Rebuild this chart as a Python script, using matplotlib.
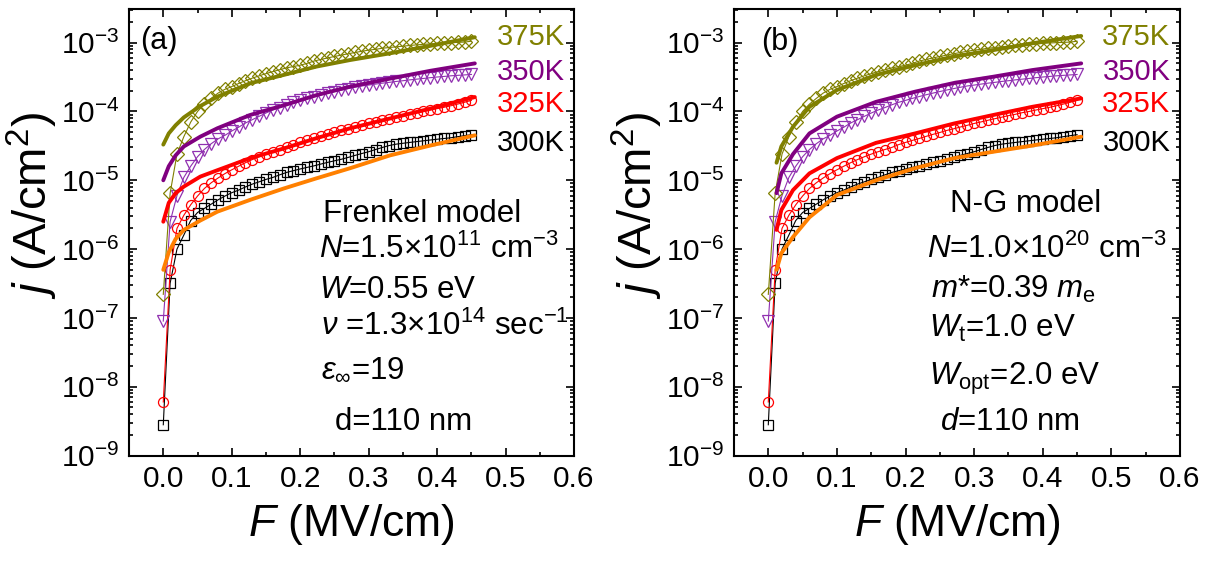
import matplotlib
matplotlib.use("Agg")
import matplotlib.pyplot as plt
from matplotlib.ticker import MultipleLocator, LogLocator, NullFormatter

plt.rcParams['font.family'] = ['Liberation Sans', 'DejaVu Sans']
plt.rcParams['mathtext.fontset'] = 'custom'
plt.rcParams['mathtext.rm'] = 'Liberation Sans'
plt.rcParams['mathtext.it'] = 'Liberation Sans:italic'
plt.rcParams['mathtext.bf'] = 'Liberation Sans:bold'

# ---------------- measured data (same in both panels) ----------------
field = [0.00, 0.01, 0.02, 0.03, 0.04, 0.05, 0.06, 0.07, 0.08, 0.09,
         0.10, 0.11, 0.12, 0.13, 0.14, 0.15, 0.16, 0.17, 0.18, 0.19,
         0.20, 0.21, 0.22, 0.23, 0.24, 0.25, 0.26, 0.27, 0.28, 0.29,
         0.30, 0.31, 0.32, 0.33, 0.34, 0.35, 0.36, 0.37, 0.38, 0.39,
         0.40, 0.41, 0.42, 0.43, 0.44, 0.45]

j_300 = [2.8e-9, 3.2e-7, 1.0e-6, 1.6e-6, 2.6e-6, 3.4e-6, 3.9e-6, 4.5e-6, 5.2e-6, 5.9e-6,
         6.6e-6, 7.2e-6, 8.0e-6, 8.8e-6, 9.5e-6, 1.03e-5, 1.1e-5, 1.2e-5, 1.3e-5, 1.38e-5,
         1.46e-5, 1.54e-5, 1.62e-5, 1.72e-5, 1.82e-5, 1.92e-5, 2.02e-5, 2.15e-5, 2.3e-5, 2.45e-5,
         2.6e-5, 2.8e-5, 3.0e-5, 3.2e-5, 3.35e-5, 3.45e-5, 3.55e-5, 3.65e-5, 3.75e-5, 3.85e-5,
         3.95e-5, 4.05e-5, 4.15e-5, 4.3e-5, 4.45e-5, 4.6e-5]

j_325 = [6.0e-9, 5.0e-7, 2.0e-6, 3.1e-6, 4.4e-6, 5.9e-6, 7.6e-6, 9.2e-6, 1.08e-5, 1.25e-5,
         1.42e-5, 1.6e-5, 1.8e-5, 2.0e-5, 2.2e-5, 2.4e-5, 2.6e-5, 2.8e-5, 3.0e-5, 3.3e-5,
         3.55e-5, 3.8e-5, 4.05e-5, 4.35e-5, 4.65e-5, 4.95e-5, 5.3e-5, 5.6e-5, 5.95e-5, 6.3e-5,
         6.7e-5, 7.05e-5, 7.45e-5, 7.85e-5, 8.25e-5, 8.7e-5, 9.1e-5, 9.6e-5, 1.0e-4, 1.05e-4,
         1.1e-4, 1.15e-4, 1.21e-4, 1.28e-4, 1.36e-4, 1.45e-4]

j_350 = [9.0e-8, 2.5e-6, 6.0e-6, 1.1e-5, 1.6e-5, 2.2e-5, 2.8e-5, 3.4e-5, 4.0e-5, 4.5e-5,
         5.2e-5, 5.9e-5, 6.8e-5, 7.6e-5, 8.5e-5, 9.5e-5, 1.05e-4, 1.14e-4, 1.25e-4, 1.36e-4,
         1.45e-4, 1.55e-4, 1.65e-4, 1.75e-4, 1.85e-4, 1.95e-4, 2.05e-4, 2.15e-4, 2.25e-4, 2.35e-4,
         2.42e-4, 2.5e-4, 2.58e-4, 2.65e-4, 2.73e-4, 2.8e-4, 2.88e-4, 2.95e-4, 3.02e-4, 3.1e-4,
         3.17e-4, 3.23e-4, 3.3e-4, 3.35e-4, 3.4e-4, 3.45e-4]

j_375 = [2.2e-7, 6.5e-6, 2.4e-5, 4.3e-5, 7.0e-5, 1.0e-4, 1.28e-4, 1.55e-4, 1.85e-4, 2.1e-4,
         2.3e-4, 2.55e-4, 2.8e-4, 3.05e-4, 3.3e-4, 3.55e-4, 3.8e-4, 4.05e-4, 4.3e-4, 4.5e-4,
         4.7e-4, 5.0e-4, 5.4e-4, 5.7e-4, 6.0e-4, 6.3e-4, 6.6e-4, 6.9e-4, 7.2e-4, 7.5e-4,
         7.8e-4, 8.0e-4, 8.3e-4, 8.5e-4, 8.7e-4, 8.9e-4, 9.1e-4, 9.3e-4, 9.45e-4, 9.6e-4,
         9.75e-4, 9.9e-4, 1.0e-3, 1.01e-3, 1.02e-3, 1.05e-3]

# ---------------- model fits, panel (a): Frenkel ----------------
fit_a_F = [0.0, 0.008, 0.018, 0.03, 0.054, 0.079, 0.127, 0.176, 0.224, 0.273, 0.331, 0.39, 0.455]
fit_a_300 = [5e-7, 9e-7, 1.4e-6, 1.9e-6, 2.6e-6, 3.5e-6, 5.2e-6, 7.6e-6, 1.07e-5, 1.5e-5, 2.3e-5, 3.2e-5, 4.5e-5]
fit_a_325 = [2.5e-6, 4.7e-6, 6.5e-6, 8.1e-6, 1.13e-5, 1.4e-5, 2.1e-5, 2.9e-5, 4.1e-5, 5.7e-5, 7.9e-5, 1.1e-4, 1.62e-4]
fit_a_350 = [1e-5, 1.6e-5, 2.3e-5, 3.1e-5, 4.3e-5, 5.7e-5, 8.9e-5, 1.23e-4, 1.73e-4, 2.3e-4, 3.0e-4, 3.9e-4, 5.0e-4]
fit_a_375 = [3.3e-5, 4.8e-5, 6.3e-5, 8.2e-5, 1.2e-4, 1.64e-4, 2.57e-4, 3.4e-4, 4.5e-4, 5.6e-4, 7.0e-4, 9.0e-4, 1.2e-3]

# ---------------- model fits, panel (b): N-G ----------------
fit_b_F = [0.012, 0.019, 0.036, 0.06, 0.1, 0.157, 0.214, 0.271, 0.328, 0.385, 0.456]
fit_b_300 = [5e-7, 8.7e-7, 1.5e-6, 2.9e-6, 6.1e-6, 1.0e-5, 1.5e-5, 2.1e-5, 2.6e-5, 3.2e-5, 4.3e-5]
fit_b_325 = [1.9e-6, 3.7e-6, 7.2e-6, 1.26e-5, 2.1e-5, 3.5e-5, 4.8e-5, 6.7e-5, 8.9e-5, 1.17e-4, 1.55e-4]
fit_b_350 = [6.5e-6, 1.26e-5, 2.4e-5, 4.8e-5, 8.4e-5, 1.38e-4, 1.94e-4, 2.6e-4, 3.2e-4, 4.0e-4, 5.0e-4]
fit_b_375 = [1.8e-5, 3.1e-5, 6.0e-5, 1.17e-4, 2.05e-4, 3.4e-4, 4.7e-4, 6.3e-4, 7.8e-4, 9.8e-4, 1.25e-3]

temps = ['300K', '325K', '350K', '375K']
temp_label_y = [3.5e-5, 1.3e-4, 3.7e-4, 1.2e-3]

text_a = ["Frenkel model",
          r"$N$=1.5$\times$10$^{11}$ cm$^{-3}$",
          r"$W$=0.55 eV",
          r"$\nu$ =1.3$\times$10$^{14}$ sec$^{-1}$",
          r"$\varepsilon_{\infty}$=19",
          "d=110 nm"]
text_b = ["N-G model",
          r"$N$=1.0$\times$10$^{20}$ cm$^{-3}$",
          r"$m$*=0.39 $m_{\mathrm{e}}$",
          r"$W_{\mathrm{t}}$=1.0 eV",
          r"$W_{\mathrm{opt}}$=2.0 eV",
          r"$d$=110 nm"]

# ---------------- styling ----------------
marker_colors = ['black', '#FF0000', '#9030B0', '#808000']
fit_colors = ['#FF8000', '#FF0000', '#800080', '#808000']
label_colors = ['black', '#FF0000', '#800080', '#808000']
markers = ['s', 'o', 'v', 'D']
msizes = [6.6, 7.2, 8.0, 6.8]

fig = plt.figure(figsize=(12.14, 5.63), dpi=100)
ax_a = fig.add_axes([0.1063, 0.1909, 0.3666, 0.7925])
ax_b = fig.add_axes([0.6046, 0.1909, 0.3674, 0.7925])

data = [j_300, j_325, j_350, j_375]
fits = {
    'a': (fit_a_F, [fit_a_300, fit_a_325, fit_a_350, fit_a_375]),
    'b': (fit_b_F, [fit_b_300, fit_b_325, fit_b_350, fit_b_375]),
}

text_x_a = [0.436, 0.427, 0.427, 0.432, 0.432, 0.463]
text_y_a = [0.524, 0.443, 0.353, 0.270, 0.174, 0.057]
text_x_b = [0.485, 0.433, 0.442, 0.437, 0.437, 0.462]
text_y_b = [0.546, 0.442, 0.353, 0.266, 0.158, 0.057]

for key, ax in (('a', ax_a), ('b', ax_b)):
    fF, fvals = fits[key]
    for i in range(4):
        ax.plot(field, data[i], marker=markers[i], ms=msizes[i], mfc='none',
                mec=marker_colors[i], mew=0.9, color=marker_colors[i], lw=0.8, zorder=2)
    for i in range(4):
        ax.plot(fF, fvals[i], color=fit_colors[i], lw=2.8, zorder=3,
                solid_capstyle='round')
    for i in range(4):
        ax.text(0.586, temp_label_y[i], temps[i], color=label_colors[i],
                fontsize=21, ha='right', va='center')

    ax.set_yscale('log')
    ax.set_xlim(-0.05, 0.6)
    ax.set_ylim(1e-9, 3.05e-3)
    ax.xaxis.set_major_locator(MultipleLocator(0.1))
    ax.xaxis.set_minor_locator(MultipleLocator(0.05))
    ax.yaxis.set_major_locator(LogLocator(base=10, numticks=20))
    ax.yaxis.set_minor_locator(LogLocator(base=10, subs=range(2, 10), numticks=20))
    ax.yaxis.set_minor_formatter(NullFormatter())
    ax.xaxis.set_major_formatter(plt.FuncFormatter(lambda v, p: f"{v:.1f}"))
    ax.tick_params(which='both', direction='in', top=True, right=True, width=1.2,
                   labelsize=21.5)
    ax.tick_params(which='major', length=5.5, pad=7)
    ax.tick_params(which='minor', length=3)
    for s in ax.spines.values():
        s.set_linewidth(1.5)

    ax.set_xlabel(r"$F$ (MV/cm)", fontsize=32)
    ax.xaxis.set_label_coords(0.5, -0.105)
    ax.set_ylabel(r"$j$ (A/cm$^2$)", fontsize=34)
    ax.yaxis.set_label_coords(-0.155, 0.56)

for txt, x, y in zip(text_a, text_x_a, text_y_a):
    ax_a.text(x, y, txt, transform=ax_a.transAxes, fontsize=22.5, ha='left', va='baseline')
for txt, x, y in zip(text_b, text_x_b, text_y_b):
    ax_b.text(x, y, txt, transform=ax_b.transAxes, fontsize=22.5, ha='left', va='baseline')

ax_a.text(0.025, 0.911, "(a)", transform=ax_a.transAxes, fontsize=22, ha='left', va='baseline')
ax_b.text(0.06, 0.909, "(b)", transform=ax_b.transAxes, fontsize=22, ha='left', va='baseline')

fig.savefig("out.png", dpi=100)
